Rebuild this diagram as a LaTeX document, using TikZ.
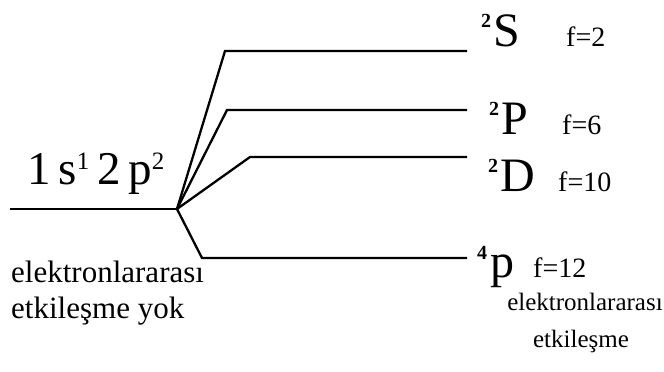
\documentclass[tikz,border=0pt]{standalone}
\usepackage{fontspec}
\setmainfont{Liberation Serif}
\newcommand\bigsup[1]{\raisebox{19pt}{\fontsize{20}{20}\selectfont\bfseries #1}\kern2pt}
\newcommand\cfgsup[1]{\raisebox{15pt}{\fontsize{25}{25}\selectfont #1}}
\begin{document}
\begin{tikzpicture}[x=1pt,y=-1pt,
  lvl/.style={line width=2.3pt, line join=miter},
  big/.style={font=\fontsize{48}{52}\selectfont, inner sep=0pt, anchor=base west},
  conf/.style={font=\fontsize{47}{50}\selectfont, inner sep=0pt, anchor=base west},
  deg/.style={font=\fontsize{28}{32}\selectfont, inner sep=0pt, anchor=base west},
  lbl/.style={font=\fontsize{31}{36}\selectfont, inner sep=0pt, anchor=base west},
  lblr/.style={font=\fontsize{25}{30}\selectfont, inner sep=0pt, anchor=base, align=center}]
\useasboundingbox (0,0) rectangle (664,372);
% coordinates
\coordinate (l0) at (10,209);
\coordinate (b) at (177,209);
\coordinate (cS) at (225,51);
\coordinate (eS) at (467,51);
\coordinate (cP) at (227,110);
\coordinate (eP) at (467,110);
\coordinate (cD) at (250,157);
\coordinate (eD) at (467,157);
\coordinate (cp) at (202,258);
\coordinate (ep) at (467,258);
% lines
\draw[lvl] (l0) -- (b);
\draw[lvl] (b) -- (cS) -- (eS);
\draw[lvl] (b) -- (cP) -- (eP);
\draw[lvl] (b) -- (cD) -- (eD);
\draw[lvl] (b) -- (cp) -- (ep);
% texts
\node[conf] (cfg) at (27,184) {1\,s\cfgsup{1}\,2\,p\cfgsup{2}};
\node[big] (tS) at (481,46) {\bigsup{2}S};
\node[deg] (fS) at (566,46) {f=2};
\node[big] (tP) at (489,134) {\bigsup{2}P};
\node[deg] (fP) at (562,134) {f=6};
\node[big] (tD) at (488,191) {\bigsup{2}D};
\node[deg] (fD) at (558,191) {f=10};
\node[big] (tp) at (477,277) {\raisebox{18pt}{\fontsize{20}{20}\selectfont\bfseries 4}\kern3pt p};
\node[deg] (fp) at (533,277) {f=12};
\node[lbl] (L1) at (11,282) {elektronlararası};
\node[lbl] (L2) at (11,318) {etkileşme yok};
\node[lblr] (R1) at (585,310) {elektronlararası};
\node[lblr] (R2) at (581,347) {etkileşme};
\end{tikzpicture}
\end{document}
